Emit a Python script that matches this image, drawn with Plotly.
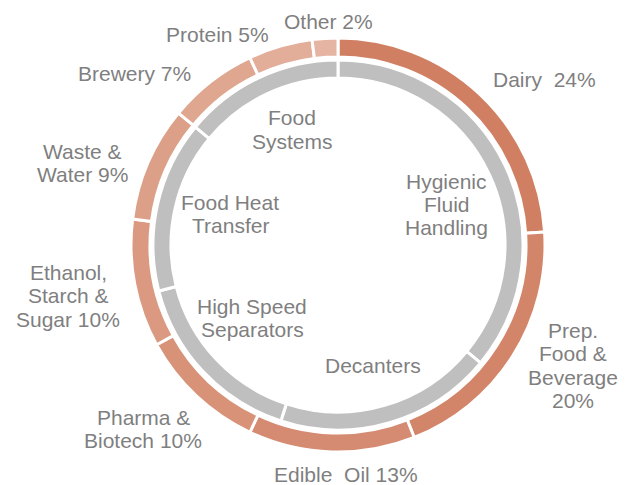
import plotly.graph_objects as go

# ---- data ----
industries = ["Dairy", "Prep. Food & Beverage", "Edible Oil", "Pharma & Biotech",
              "Ethanol, Starch & Sugar", "Waste & Water", "Brewery", "Protein", "Other"]
industry_share = [24, 20, 13, 10, 10, 9, 7, 5, 2]
industry_labels = ["Dairy  24%", "Prep.<br>Food &<br>Beverage<br>20%", "Edible  Oil 13%",
                   "Pharma &<br>Biotech 10%", "Ethanol,<br>Starch &<br>Sugar 10%",
                   "Waste &<br>Water 9%", "Brewery 7%", "Protein 5%", "Other 2%"]

products = ["Hygienic Fluid Handling", "Decanters", "High Speed Separators",
            "Food Heat Transfer", "Food Systems"]
product_share = [36, 19, 16, 15, 14]
product_labels = ["Hygienic<br>Fluid<br>Handling", "Decanters", "High Speed<br>Separators",
                  "Food Heat<br>Transfer", "Food<br>Systems"]

# ---- styles / layout ----
W, H = 635, 485
OFF = 8                    # page body margin offset
outer_colors = ["#D07F62", "#D3856A", "#D58B71", "#D79278", "#DA9980",
                "#DC9F88", "#DFA790", "#E2AE99", "#E5B4A2"]
inner_color = "#BFBFBF"
text_color = "#7F7F7F"
font_family = "Liberation Sans, Arial, sans-serif"
font_size = 21
line_gap = 23.5

cx, cy = 338 - OFF, 245 - OFF          # ring centre in pixels (from top-left)
r_outer, r_outer_in = 207, 188
r_inner, r_inner_in = 185, 167

def dom(r):
    return dict(x=[(cx - r) / W, (cx + r) / W],
                y=[(H - cy - r) / H, (H - cy + r) / H])

# label centres (page pixel coords, first line centre)
outer_label_pos = [(544, 78), (573, 329), (346, 473), (143, 416), (68, 271),
                   (82, 150), (134, 73), (217, 33), (328, 20)]
inner_label_pos = [(447, 180), (373, 364), (252, 305), (230, 201), (292, 117)]

fig = go.Figure()
fig.add_trace(go.Pie(
    labels=industries, values=industry_share, sort=False, direction="clockwise",
    rotation=0, hole=r_outer_in / r_outer, domain=dom(r_outer),
    marker=dict(colors=outer_colors, line=dict(color="white", width=3)),
    textinfo="none", showlegend=False))
fig.add_trace(go.Pie(
    labels=products, values=product_share, sort=False, direction="clockwise",
    rotation=0, hole=r_inner_in / r_inner, domain=dom(r_inner),
    marker=dict(colors=[inner_color] * len(products), line=dict(color="white", width=3)),
    textinfo="none", showlegend=False))

def add_label(text, pos):
    x0, y0 = pos[0] - OFF, pos[1] - OFF
    for i, line in enumerate(text.split("<br>")):
        fig.add_annotation(x=x0 / W, y=1 - (y0 + i * line_gap + 1) / H,
                           xref="paper", yref="paper", text=line.replace("  ", "&nbsp; "),
                           showarrow=False, xanchor="center", yanchor="middle",
                           font=dict(family=font_family, size=font_size, color=text_color))

for t, p in zip(industry_labels, outer_label_pos):
    add_label(t, p)
for t, p in zip(product_labels, inner_label_pos):
    add_label(t, p)

fig.update_layout(width=W, height=H, margin=dict(l=0, r=0, t=0, b=0),
                  paper_bgcolor="white", plot_bgcolor="white")
fig.write_html("out.html")
